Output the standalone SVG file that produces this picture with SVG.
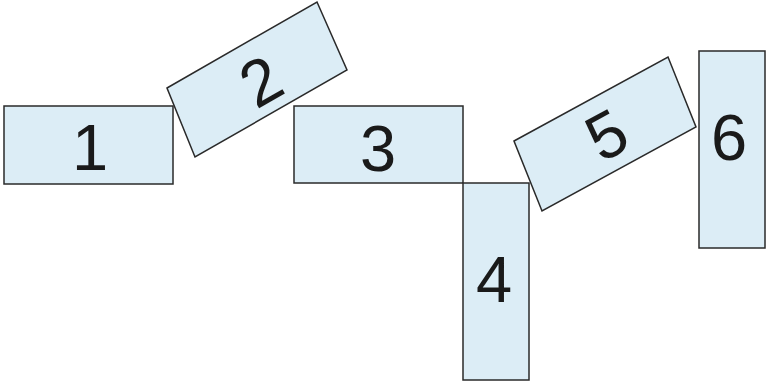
<svg xmlns="http://www.w3.org/2000/svg" width="766" height="383" viewBox="0 0 766 383">
<style>
.box{fill:#dcedf6;stroke:#2a2a2a;stroke-width:1.5}
.lbl{font-family:"Liberation Sans",Arial,sans-serif;font-size:65px;fill:#1a1a1a;text-anchor:middle}
</style>
<rect width="766" height="383" fill="#ffffff"/>
<g id="connectors"></g>
<g id="node1"><rect class="box" x="4" y="106" width="169" height="78"/><text class="lbl" x="90" y="170">1</text></g>
<g id="node2"><polygon class="box" points="167,88 317,2 347,70 195,157"/><text class="lbl" transform="translate(258,80) rotate(-29.5)" x="2" y="25">2</text></g>
<g id="node3"><rect class="box" x="294" y="106" width="169" height="77"/><text class="lbl" x="378" y="171">3</text></g>
<g id="node4"><rect class="box" x="463" y="183" width="66" height="197"/><text class="lbl" x="494" y="302">4</text></g>
<g id="node5"><polygon class="box" points="514,141 668,57 696,127 542,211"/><text class="lbl" transform="translate(605,134) rotate(-28.5)" x="1" y="24">5</text></g>
<g id="node6"><rect class="box" x="699" y="51" width="66" height="197"/><text class="lbl" x="729" y="160">6</text></g>
</svg>
